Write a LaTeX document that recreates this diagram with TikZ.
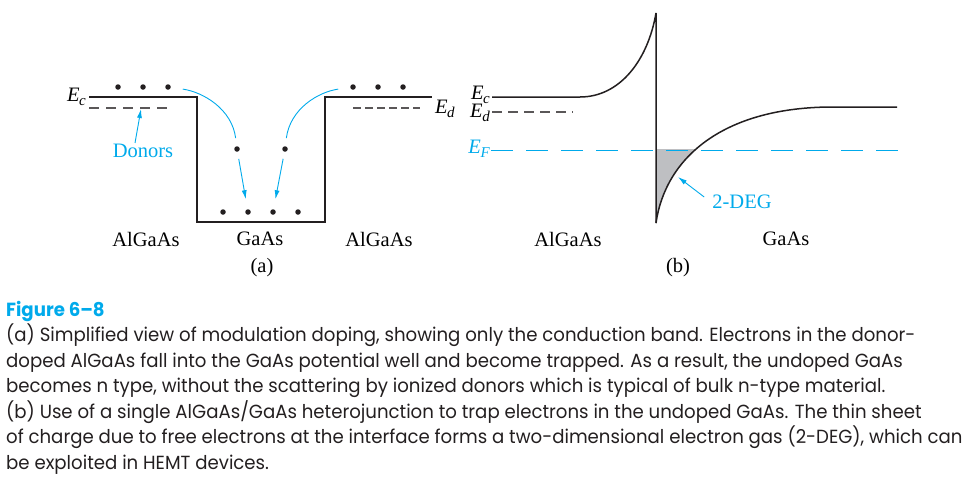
\documentclass[tikz,border=0pt]{standalone}
\usepackage{fontspec}
\setmainfont{Liberation Serif}
\newfontfamily\capfont[FakeStretch=0.955]{Poppins}
\usetikzlibrary{arrows.meta,calc}

\definecolor{cblue}{RGB}{0,170,235}
\definecolor{ink}{RGB}{35,31,32}
\definecolor{degfill}{RGB}{190,191,194}
\newcommand{\Elev}[1]{\textit{E}\kern-0.5pt\raisebox{-4pt}{\fontsize{15}{15}\selectfont\textit{#1}}}

\begin{document}
\begin{tikzpicture}[x=1pt,y=-1pt]
\tikzset{dot/.style = {circle,fill=ink,inner sep=0pt,minimum size=5.5pt}}
\tikzset{band/.style = {draw=ink,line width=1.5pt}}
\tikzset{level/.style = {draw=ink!75,line width=1.1pt}}
\tikzset{flow/.style = {draw=cblue,line width=0.9pt,-{Latex[length=9pt,width=5pt]}}}
\tikzset{lab/.style = {inner sep=0pt,font=\fontsize{20.5}{24}\selectfont}}
\tikzset{captext/.style = {anchor=base west,inner sep=0pt,text=ink,font=\capfont\fontsize{19}{19}\selectfont}}
\useasboundingbox (0,0) rectangle (964,477);

% (a) quantum well
\draw[band] (89,97) -- (197,97) -- (197,222) -- (325,222) -- (325,97) -- (432,97);
\draw[level,dash pattern=on 10pt off 7pt] (89,108) -- (171,108);
\draw[level,dash pattern=on 8pt off 4pt] (353,108) -- (420,108);

\foreach \pos/\name in {{(118,87)/L1}, {(143,87)/L2}, {(168,87)/L3}, {(353,87)/R1}, {(378,87)/R2}, {(403,87)/R3},
  {(237,149)/M1}, {(285,149)/M2}, {(223,212)/B1}, {(248,212)/B2}, {(273,212)/B3}, {(298,212)/B4}}
\node[dot] (\name) at \pos {};

\draw[flow,-,shorten <=12pt,shorten >=8pt] (L3) .. controls +(35,5) and +(-5,-40) .. (M1);
\draw[flow,-,shorten <=12pt,shorten >=8pt] (R1) .. controls +(-35,5) and +(5,-40) .. (M2);
\draw[flow,shorten <=7pt,shorten >=10pt] (M1) -- (B2);
\draw[flow,shorten <=7pt,shorten >=10pt] (M2) -- (B3);

\node[lab,anchor=base east] (Eca) at (86,101) {\Elev{c}};
\node[lab,anchor=base west] (Eda) at (435,113) {\Elev{d}};
\node[lab,text=cblue] (donors) at (143,151) {Donors};
\coordinate (dtip) at (141,109);
\draw[flow] ($(donors.north)+(-8,-1)$) -- (dtip);

\node[lab] (alga1) at (146,239) {AlGaAs};
\node[lab] (gaas1) at (260,239) {GaAs};
\node[lab] (alga2) at (379,239) {AlGaAs};
\node[lab] (parta) at (262,268) {(a)};

% (b) single heterojunction
\begin{scope}
\clip (656,149) rectangle (800,230);
\fill[degfill] (656,223) .. controls (665,160) and (720,108) .. (830,107) -- (656,107) -- cycle;
\end{scope}
\draw[band] (492,97) -- (580,97) .. controls (620,97) and (648,60) .. (656,13) -- (656,223);
\draw[band] (656,223) .. controls (665,160) and (720,108) .. (830,107) -- (897,107);
\draw[level,dash pattern=on 10pt off 6pt] (492,112) -- (573,112);
\draw[cblue,line width=1pt,dash pattern=on 22pt off 13pt] (491,150) -- (898,150);

\node[lab,anchor=base east] (Ecb) at (490,99.5) {\Elev{c}};
\node[lab,anchor=base east] (Edb) at (490,117) {\Elev{d}};
\node[lab,anchor=base east,text=cblue] (Efb) at (490,153) {\Elev{F}};

\node[lab,text=cblue] (deg) at (742,202) {2-DEG};
\coordinate (degtip) at (678,177);
\draw[flow] ($(deg.west)+(-8,-5)$) -- (degtip);

\node[lab] (alga3) at (568,239) {AlGaAs};
\node[lab] (gaas2) at (786,239) {GaAs};
\node[lab] (partb) at (678,268) {(b)};

% caption
\node[captext,text=cblue,font=\capfont\bfseries\fontsize{19}{19}\selectfont] (fig) at (6,316) {Figure 6–8};
\foreach \txt [count=\i] in {
  {(a) Simplified view of modulation doping, showing only the conduction band. Electrons in the donor-},
  {doped AlGaAs fall into the GaAs potential well and become trapped. As a result, the undoped GaAs},
  {becomes n type, without the scattering by ionized donors which is typical of bulk n-type material.},
  {(b) Use of a single AlGaAs/GaAs heterojunction to trap electrons in the undoped GaAs. The thin sheet},
  {of charge due to free electrons at the interface forms a two-dimensional electron gas (2-DEG), which can},
  {be exploited in HEMT devices.}}
\node[captext] (cap\i) at (6,{316+25.5*\i}) {\txt};
\end{tikzpicture}
\end{document}
